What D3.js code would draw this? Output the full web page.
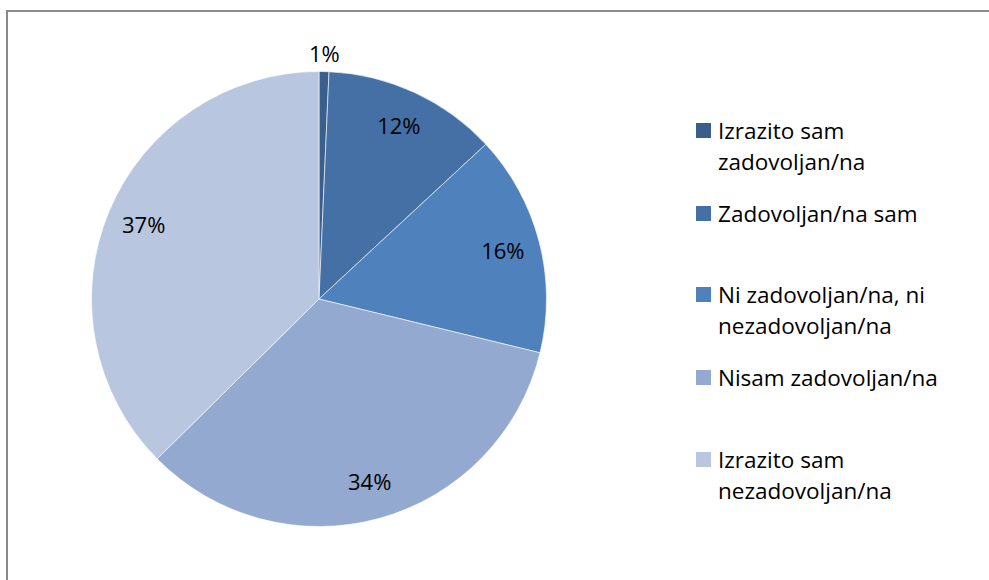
<!DOCTYPE html>
<head>
<meta charset="utf-8" />
</head>
<style>
body {
  margin: 0;
  background: #fff;
  font-family: "Open Sans", Lato, sans-serif;
}
svg {
  display: block;
}
.pctLabel {
  font-size: 22px;
  fill: #000;
}
.legendText {
  font-size: 22.5px;
  fill: #000;
}
</style>
<body>
<script src="https://cdn.jsdelivr.net/npm/d3@7"></script>
<script>
// data
var categories = [
  ["Izrazito sam", "zadovoljan/na"],
  ["Zadovoljan/na sam"],
  ["Ni zadovoljan/na, ni", "nezadovoljan/na"],
  ["Nisam zadovoljan/na"],
  ["Izrazito sam", "nezadovoljan/na"]
];
var values = [0.7, 12.4, 15.7, 33.8, 37.4];
var colors = ["#3b5f8d", "#4570a6", "#4f81bd", "#93a9cf", "#b9c6df"];

var width = 989, height = 580;
var cx = 319, cy = 299, radius = 227.5;

var svg = d3.select("body").append("svg")
  .attr("width", width)
  .attr("height", height);

// chart frame (runs off the right and bottom edges)
svg.append("rect")
  .attr("x", 7).attr("y", 11)
  .attr("width", 1000).attr("height", 620)
  .attr("fill", "none")
  .attr("stroke", "#8a8a8a")
  .attr("stroke-width", 2);

var data = values.map(function(v, i) { return {name: categories[i], value: v, i: i}; });

var pie = d3.pie()
  .value(function(d) { return d.value; })
  .sort(null);

var arc = d3.arc().innerRadius(0).outerRadius(radius);
var labelArc = d3.arc().innerRadius(190).outerRadius(190);
var outerArc = d3.arc().innerRadius(radius + 17).outerRadius(radius + 17);

var total = d3.sum(values);
var g = svg.append("g").attr("transform", "translate(" + cx + "," + cy + ")");

var arcs = pie(data);

g.selectAll("path.slice")
  .data(arcs)
  .enter().append("path")
  .attr("class", "slice")
  .attr("d", arc)
  .attr("fill", function(d) { return colors[d.data.i]; })
  .attr("stroke", "#fff")
  .attr("stroke-width", 0.6);

g.selectAll("text.pctLabel")
  .data(arcs)
  .enter().append("text")
  .attr("class", "pctLabel")
  .attr("text-anchor", "middle")
  .attr("dy", "0.35em")
  .attr("transform", function(d) {
    var pos = d.data.value < 2 ? outerArc.centroid(d) : labelArc.centroid(d);
    return "translate(" + pos + ")";
  })
  .text(function(d) { return Math.round(100 * d.data.value / total) + "%"; });

// legend
var legendY = [123, 206, 287, 370, 452];
var legend = svg.append("g").attr("class", "legend");
var item = legend.selectAll("g")
  .data(data)
  .enter().append("g")
  .attr("transform", function(d, i) { return "translate(696," + legendY[i] + ")"; });

item.append("rect")
  .attr("width", 15).attr("height", 15)
  .attr("fill", function(d) { return colors[d.i]; });

item.append("text")
  .attr("class", "legendText")
  .attr("x", 22)
  .attr("y", 16)
  .selectAll("tspan")
  .data(function(d) { return d.name; })
  .enter().append("tspan")
  .attr("x", 22)
  .attr("dy", function(d, j) { return j === 0 ? 0 : 31; })
  .text(function(d) { return d; });
</script>
</body>
